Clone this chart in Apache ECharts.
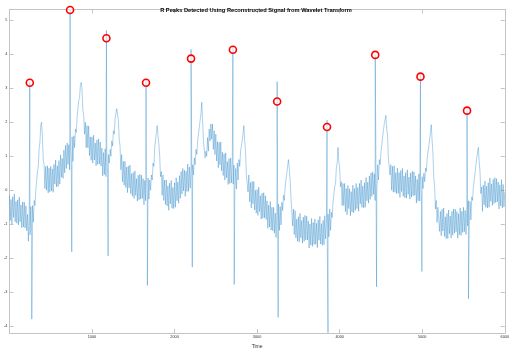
<!DOCTYPE html>
<html>
<head>
<meta charset="utf-8">
<script src="https://cdn.jsdelivr.net/npm/echarts@6/dist/echarts.min.js"></script>
<style>
  html, body { margin: 0; padding: 0; background: #fff; }
  #chart { width: 512px; height: 354px; }
</style>
</head>
<body>
<div id="chart"></div>
<script>
// sample spacing of the signal (time units)
const sampleStep = 10;

// reconstructed ECG, one value every 10 time units; each row covers 100 time units
const signal = [
  -0.15, -0.89, -0.27, -0.99, -0.19, -0.80, -0.11, -0.93, -0.33, -0.97,
  -0.28, -1.02, -0.20, -0.93, -0.43, -1.10, -0.34, -1.08, -0.35, -1.11,
  -0.46, -1.19, -0.71, -1.50, -0.74, -1.31, -0.48, -1.25, -0.45, -0.94,
  -0.30, -0.45, 0.00, 0.02, 0.55, 0.70, 1.22, 1.42, 1.92, 2.00,
  1.55, 0.90, 0.75, 0.05, 0.70, 0.00, 0.72, -0.08, 0.65, -0.05,
  0.70, -0.02, 0.63, -0.06, 0.76, 0.18, 0.89, 0.10, 0.72, 0.11,
  0.87, 0.18, 1.04, 0.38, 0.94, 0.35, 1.18, 0.51, 1.32, 0.64,
  1.39, 0.76, 1.34, 0.60, 1.36, 0.74, 1.57, 0.85, 1.60, 1.25,
  1.80, 1.70, 2.15, 2.20, 2.65, 2.72, 3.10, 3.17, 2.95, 2.35,
  2.20, 1.65, 2.00, 1.25, 1.90, 1.25, 1.89, 1.02, 1.57, 0.88,
  1.57, 0.80, 1.62, 0.89, 1.39, 0.72, 1.48, 0.76, 1.51, 0.77,
  1.42, 0.71, 1.24, 0.42, 1.11, 0.46, 1.22, 0.40, 1.10, 0.46,
  1.05, 0.80, 1.20, 1.00, 1.45, 1.30, 1.75, 1.65, 2.10, 2.15,
  2.40, 2.45, 2.05, 1.50, 1.30, 0.60, 1.05, 0.25, 0.85, 0.15,
  0.85, 0.08, 0.68, -0.07, 0.71, 0.07, 0.74, -0.10, 0.49, -0.17,
  0.52, -0.24, 0.57, -0.15, 0.34, -0.32, 0.44, -0.28, 0.47, -0.26,
  0.44, -0.24, 0.34, -0.43, 0.29, -0.31, 0.47, -0.35, 0.36, -0.26,
  0.30, 0.00, 0.45, 0.30, 0.80, 0.70, 1.25, 1.25, 1.70, 1.90,
  1.93, 1.35, 1.05, 0.40, 0.55, -0.15, 0.45, -0.30, 0.30, -0.42,
  0.30, -0.46, 0.13, -0.59, 0.21, -0.40, 0.29, -0.53, 0.08, -0.54,
  0.22, -0.50, 0.37, -0.31, 0.24, -0.38, 0.43, -0.24, 0.55, -0.11,
  0.64, -0.02, 0.59, -0.18, 0.56, -0.04, 0.77, -0.03, 0.68, 0.06,
  0.65, 0.20, 0.75, 0.45, 0.95, 0.75, 1.20, 1.05, 1.45, 1.45,
  1.85, 1.85, 2.25, 2.59, 2.05, 1.45, 1.40, 0.95, 1.15, 1.00,
  1.55, 1.15, 1.80, 1.45, 1.95, 1.50, 1.95, 1.20, 1.75, 1.05,
  1.65, 0.86, 1.43, 0.66, 1.41, 0.75, 1.42, 0.57, 1.12, 0.43,
  1.07, 0.30, 1.10, 0.37, 0.84, 0.17, 0.93, 0.20, 0.95, 0.22,
  0.89, 0.18, 0.74, -0.10, 0.64, 0.04, 0.80, 0.30, 0.90, 0.70,
  1.15, 1.10, 1.45, 1.50, 1.90, 1.45, 1.15, 0.45, 0.50, -0.05,
  0.45, -0.34, 0.23, -0.52, 0.26, -0.40, 0.26, -0.58, 0.00, -0.67,
  0.02, -0.74, 0.09, -0.63, -0.16, -0.85, -0.09, -0.82, -0.07, -0.81,
  -0.16, -0.86, -0.31, -1.12, -0.44, -1.08, -0.33, -1.17, -0.50, -1.19,
  -0.50, -1.26, -0.67, -1.39, -0.59, -1.15, -0.41, -1.18, -0.48, -1.02,
  -0.35, -0.60, -0.15, -0.30, 0.10, 0.10, 0.50, 0.55, 0.90, 0.65,
  0.30, -0.20, -0.25, -1.05, -0.55, -1.30, -0.60, -1.40, -0.85, -1.50,
  -0.78, -1.52, -0.68, -1.40, -0.89, -1.55, -0.79, -1.50, -0.74, -1.46,
  -0.76, -1.46, -0.90, -1.70, -0.99, -1.61, -0.83, -1.65, -0.95, -1.59,
  -0.85, -1.59, -0.97, -1.69, -0.87, -1.47, -0.77, -1.58, -0.98, -1.62,
  -0.88, -1.60, -0.75, -1.43, -0.88, -1.50, -0.70, -1.37, -0.55, -1.18,
  -0.65, -0.80, -0.35, -0.35, 0.10, 0.20, 0.65, 0.80, 1.26, 0.85,
  0.65, 0.10, 0.25, -0.45, 0.20, -0.45, 0.20, -0.63, 0.05, -0.72,
  0.14, -0.54, 0.04, -0.75, -0.04, -0.64, 0.15, -0.66, 0.05, -0.59,
  0.20, -0.54, 0.08, -0.62, 0.20, -0.40, 0.30, -0.50, 0.12, -0.52,
  0.22, -0.50, 0.37, -0.31, 0.24, -0.38, 0.42, -0.27, 0.51, -0.18,
  0.54, -0.12, 0.48, -0.30, 0.46, -0.06, 0.75, 0.30, 0.90, 0.75,
  1.10, 1.15, 1.55, 1.55, 1.95, 2.00, 2.20, 1.80, 1.60, 0.95,
  0.95, 0.45, 0.75, 0.00, 0.70, -0.06, 0.72, -0.06, 0.52, -0.10,
  0.65, -0.09, 0.52, -0.21, 0.58, -0.04, 0.64, -0.18, 0.42, -0.22,
  0.52, -0.23, 0.60, -0.12, 0.39, -0.26, 0.51, -0.20, 0.56, -0.16,
  0.54, -0.15, 0.42, -0.38, 0.32, -0.31, 0.48, -0.32, 0.40, -0.22,
  0.40, 0.05, 0.50, 0.25, 0.65, 0.55, 0.95, 0.90, 1.30, 1.35,
  1.70, 1.93, 1.45, 1.10, 0.35, 0.15, -0.55, -0.30, -0.95, -0.50,
  -0.45, -1.21, -0.62, -1.34, -0.56, -1.20, -0.52, -1.36, -0.78, -1.42,
  -0.68, -1.42, -0.58, -1.28, -0.76, -1.40, -0.62, -1.32, -0.55, -1.26,
  -0.56, -1.22, -0.63, -1.41, -0.69, -1.31, -0.52, -1.33, -0.62, -1.24,
  -0.50, -1.22, -0.59, -1.30, -0.49, -1.05, -0.31, -1.03, -0.33, -0.87,
  -0.20, -0.30, 0.10, 0.10, 0.50, 0.50, 0.95, 1.00, 1.26, 0.85,
  0.55, -0.10, 0.10, -0.62, 0.15, -0.43, 0.27, -0.50, 0.12, -0.52,
  0.22, -0.50, 0.36, -0.33, 0.19, -0.45, 0.32, -0.39, 0.37, -0.36,
  0.34, -0.34, 0.24, -0.55, 0.16, -0.46, 0.31, -0.52, 0.17, -0.49,
  -0.05
];

// R peaks detected on the reconstructed signal (red circles)
const rPeakTimes = [247, 735, 1175, 1655, 2200, 2707, 3243, 3847, 4431, 4979, 5543];
const rPeakValues = [3.16, 5.30, 4.47, 3.16, 3.87, 4.13, 2.61, 1.86, 3.98, 3.34, 2.34];
// raw spike tops at the same instants
const rSpikeTops = [3.2, 5.3, 4.7, 3.25, 4.14, 4.23, 3.19, 2.06, 4.0, 3.41, 2.4];

// S waves right after each R peak
const sWaveTimes = [271, 755, 1195, 1671, 2215, 2723, 3255, 3859, 4447, 4996, 5560];
const sWaveValues = [-3.79, -1.81, -1.93, -2.8, -2.26, -2.77, -3.74, -4.19, -2.84, -2.39, -3.19];

const timeMin = 0, timeMax = 6000, timeStep = 1000;
const ampMin = -4.2, ampMax = 5.32;

const ecg = signal.map((v, i) => [i * sampleStep, v]);
rPeakTimes.forEach((t, i) => ecg.push([t, rSpikeTops[i]]));
sWaveTimes.forEach((t, i) => ecg.push([t, sWaveValues[i]]));
ecg.sort((a, b) => a[0] - b[0]);

const peaks = rPeakTimes.map((t, i) => [t, rPeakValues[i]]);

const axisColor = '#c4c4c4';
const labelColor = '#333';
const font = 'Liberation Sans, Arial, sans-serif';

const boxAxis = {
  axisLine: { show: true, onZero: false, lineStyle: { color: axisColor, width: 1 } },
  axisTick: { show: true, inside: true, length: 4, lineStyle: { color: axisColor } },
  splitLine: { show: false }
};

const chart = echarts.init(document.getElementById('chart'), null, { renderer: 'canvas' });

chart.setOption({
  animation: false,
  backgroundColor: '#fff',
  title: {
    text: 'R Peaks Detected Using Reconstructed Signal from Wavelet Transform',
    left: 'center',
    top: 2,
    textStyle: { fontSize: 5.7, fontWeight: 'bold', color: '#000', fontFamily: font }
  },
  grid: { left: 9.4, right: 2.6, top: 9.3, bottom: 16.7 },
  xAxis: [
    {
      ...boxAxis,
      type: 'value',
      position: 'bottom',
      min: timeMin,
      max: timeMax,
      interval: timeStep,
      name: 'Time',
      nameLocation: 'middle',
      nameGap: 8,
      nameTextStyle: { fontSize: 5, color: labelColor, fontFamily: font },
      axisLabel: {
        fontSize: 3.8, color: labelColor, margin: 2, showMinLabel: false, fontFamily: font,
        formatter: (v) => String(v)
      }
    },
    {
      ...boxAxis,
      type: 'value',
      position: 'top',
      min: timeMin,
      max: timeMax,
      interval: timeStep,
      axisLabel: { show: false }
    }
  ],
  yAxis: [
    {
      ...boxAxis,
      type: 'value',
      position: 'left',
      min: ampMin,
      max: ampMax,
      splitNumber: 10,
      axisLabel: {
        fontSize: 3.8, color: labelColor, margin: 2,
        showMinLabel: false, showMaxLabel: false, fontFamily: font
      }
    },
    {
      ...boxAxis,
      type: 'value',
      position: 'right',
      min: ampMin,
      max: ampMax,
      splitNumber: 10,
      axisLabel: { show: false }
    }
  ],
  series: [
    {
      type: 'line',
      data: ecg,
      showSymbol: false,
      symbol: 'none',
      sampling: null,
      lineStyle: { color: '#0072BD', width: 0.6, opacity: 0.55 },
      z: 2
    },
    {
      type: 'scatter',
      data: peaks,
      symbol: 'circle',
      symbolSize: 7,
      clip: false,
      itemStyle: { color: 'rgba(255,255,255,0.6)', borderColor: '#ff0000', borderWidth: 1.6, opacity: 1 },
      z: 3
    }
  ]
});
</script>
</body>
</html>
